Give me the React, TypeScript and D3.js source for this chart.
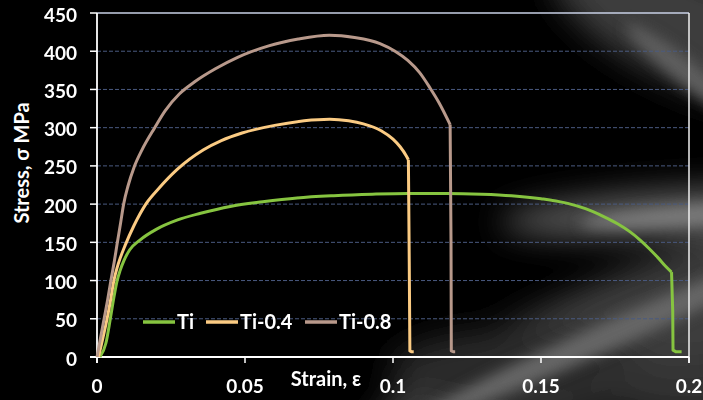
import React from "react";
import * as d3 from "d3";

const W = 703;
const H = 400;

// Series data: [strain, stress MPa]
const tiData: [number, number][] = [
  [0.001, 0], [0.003, 18], [0.0045, 50], [0.0058, 80], [0.0068, 100], [0.0078, 113],
  [0.0092, 127], [0.011, 140], [0.0145, 153], [0.02, 167], [0.027, 179], [0.035, 188],
  [0.045, 197], [0.056, 203], [0.0676, 208], [0.08, 211], [0.093, 213], [0.105, 214],
  [0.118, 214], [0.13, 213], [0.14, 211], [0.15, 207], [0.159, 201], [0.165, 194],
  [0.171, 184], [0.176, 174], [0.18, 164], [0.1835, 153], [0.1865, 142], [0.1895, 130],
  [0.192, 119], [0.1941, 111], [0.1945, 60], [0.1946, 9], [0.1955, 7], [0.1975, 7],
];
const ti04Data: [number, number][] = [
  [0.0005, 0], [0.002, 25], [0.0034, 50], [0.0046, 75], [0.0057, 100], [0.0068, 117],
  [0.0078, 129], [0.0095, 146], [0.0125, 172], [0.0165, 200], [0.021, 221], [0.027, 245],
  [0.036, 271], [0.042, 283], [0.049, 293], [0.06, 303], [0.07, 309], [0.0786, 311],
  [0.085, 309], [0.09, 305], [0.096, 296], [0.1, 285], [0.1024, 275], [0.1045, 263],
  [0.1052, 258], [0.1055, 120], [0.1057, 8], [0.1062, 7], [0.107, 7],
];
const ti08Data: [number, number][] = [
  [0, 0], [0.0012, 25], [0.0024, 50], [0.0036, 75], [0.0047, 100], [0.0058, 124],
  [0.0068, 148], [0.008, 176], [0.009, 200], [0.0105, 224], [0.0125, 248], [0.0152, 271],
  [0.0195, 300], [0.023, 322], [0.0278, 344], [0.033, 360], [0.04, 377], [0.0475, 392],
  [0.058, 407], [0.068, 416], [0.0785, 421], [0.087, 418], [0.0956, 410], [0.1007, 400],
  [0.105, 388], [0.109, 372], [0.1125, 352], [0.1155, 333], [0.1193, 304], [0.1196, 150],
  [0.1197, 8], [0.1203, 7], [0.121, 7],
];

const seriesNames = ["Ti", "Ti-0.4", "Ti-0.8"];
const seriesData = [tiData, ti04Data, ti08Data];
const seriesColors = ["#86c440", "#fbcb83", "#b8998b"];

const xTicks = [0, 0.05, 0.1, 0.15, 0.2];
const xTickLabels = ["0", "0.05", "0.1", "0.15", "0.2"];
const yTicks = [0, 50, 100, 150, 200, 250, 300, 350, 400, 450];

const xLabel = "Strain, ε";
const yLabel = "Stress, σ MPa";

const margin = { left: 97, right: 14, top: 13, bottom: 43 };

// split a series at the fracture (first large stress drop)
function splitAtFracture(d: [number, number][]) {
  let k = d.length - 1;
  for (let i = 1; i < d.length; i++) {
    if (d[i - 1][1] - d[i][1] > 40) {
      k = i - 1;
      break;
    }
  }
  return [d.slice(0, k + 1), d.slice(k)];
}

export default function App() {
  const x = d3.scaleLinear().domain([0, 0.2]).range([margin.left, W - margin.right]);
  const y = d3.scaleLinear().domain([0, 450]).range([H - margin.bottom, margin.top]);
  const smooth = d3
    .line<[number, number]>()
    .x((d) => x(d[0]))
    .y((d) => y(d[1]))
    .curve(d3.curveMonotoneX);
  const straight = d3
    .line<[number, number]>()
    .x((d) => x(d[0]))
    .y((d) => y(d[1]));

  const font = "Lato, 'Open Sans', sans-serif";
  const x0 = x(0);
  const x1 = x(0.2);
  const y0 = y(0);
  const y1 = y(450);

  const legendX = [143, 206, 305];

  return (
    <svg
      width={W}
      height={H}
      style={{ position: "absolute", left: 0, top: 0, display: "block" }}
      fontFamily={font}
    >
      <defs>
        <filter id="blur" x="-50%" y="-50%" width="200%" height="200%">
          <feGaussianBlur stdDeviation="16" />
        </filter>
        <filter id="blur2" x="-50%" y="-50%" width="200%" height="200%">
          <feGaussianBlur stdDeviation="7" />
        </filter>
      </defs>
      <rect x={0} y={0} width={W} height={H} fill="#000" />
      <g filter="url(#blur)">
        <ellipse cx={690} cy={30} rx={150} ry={55} fill="#3c3c3c" transform="rotate(25 690 30)" />
        <ellipse cx={700} cy={212} rx={200} ry={24} fill="#5a5a5a" transform="rotate(-3 700 212)" />
        <ellipse cx={640} cy={330} rx={290} ry={60} fill="#3e3e3e" transform="rotate(-22 640 330)" />
        <ellipse cx={520} cy={370} rx={130} ry={40} fill="#2a2a2a" />
        <ellipse cx={690} cy={390} rx={90} ry={30} fill="#333" />
      </g>
      <g filter="url(#blur2)">
        <ellipse cx={690} cy={75} rx={80} ry={12} fill="#5e5e5e" transform="rotate(38 690 75)" />
        <ellipse cx={700} cy={215} rx={120} ry={10} fill="#7a7a7a" transform="rotate(-4 700 215)" />
        <ellipse cx={610} cy={335} rx={210} ry={14} fill="#666" transform="rotate(-24 610 335)" />
      </g>

      {/* gridlines */}
      {yTicks.slice(1).map((t) => (
        <line
          key={"g" + t}
          x1={x0}
          x2={x1}
          y1={y(t)}
          y2={y(t)}
          stroke={t === 450 ? "#c9d1e6" : "#4a5a80"}
          strokeWidth={t === 450 ? 1.5 : 1}
          strokeDasharray={t === 450 ? undefined : "4 2"}
        />
      ))}

      {/* axes */}
      <line x1={x0} x2={x0} y1={y1} y2={y0 + 6} stroke="#fff" strokeWidth={1.8} />
      <line x1={x1} x2={x1} y1={y1} y2={y0 + 6} stroke="#f0f0f0" strokeWidth={1.5} />
      <line x1={x0 - 7} x2={x1} y1={y0} y2={y0} stroke="#fff" strokeWidth={1.8} />
      {yTicks.map((t) => (
        <line key={"yt" + t} x1={x0 - 7} x2={x0} y1={y(t)} y2={y(t)} stroke="#fff" strokeWidth={1.5} />
      ))}
      {xTicks.map((t) => (
        <line key={"xt" + t} x1={x(t)} x2={x(t)} y1={y0} y2={y0 + 6} stroke="#fff" strokeWidth={1.5} />
      ))}

      {/* tick labels */}
      {yTicks.map((t) => (
        <text
          key={"yl" + t}
          x={77}
          y={y(t) + 1}
          fill="#fff"
          fontSize={19}
          fontWeight={700}
          textAnchor="end"
          dominantBaseline="central"
        >
          {t}
        </text>
      ))}
      {xTicks.map((t, i) => (
        <text
          key={"xl" + t}
          x={x(t)}
          y={393}
          fill="#fff"
          fontSize={19}
          fontWeight={700}
          textAnchor="middle"
        >
          {xTickLabels[i]}
        </text>
      ))}

      {/* axis titles */}
      <text x={326} y={386} fill="#fff" fontSize={20} fontWeight={700} textAnchor="middle">
        {xLabel}
      </text>
      <text
        transform={`translate(29 163) rotate(-90)`}
        fill="#fff"
        fontSize={20}
        fontWeight={700}
        textAnchor="middle"
      >
        {yLabel}
      </text>

      {/* series */}
      {seriesData.map((d, i) => {
        const [body, tail] = splitAtFracture(d);
        return (
          <g key={seriesNames[i]} fill="none" stroke={seriesColors[i]} strokeWidth={3} strokeLinejoin="round">
            <path d={smooth(body) || ""} />
            <path d={straight(tail) || ""} />
          </g>
        );
      })}

      {/* legend */}
      {seriesNames.map((n, i) => (
        <g key={"lg" + n}>
          <line
            x1={legendX[i]}
            x2={legendX[i] + 32}
            y1={322}
            y2={322}
            stroke={seriesColors[i]}
            strokeWidth={3.5}
          />
          <text x={legendX[i] + 34} y={329} fill="#fff" fontSize={20} fontWeight={700}>
            {n}
          </text>
        </g>
      ))}
    </svg>
  );
}
